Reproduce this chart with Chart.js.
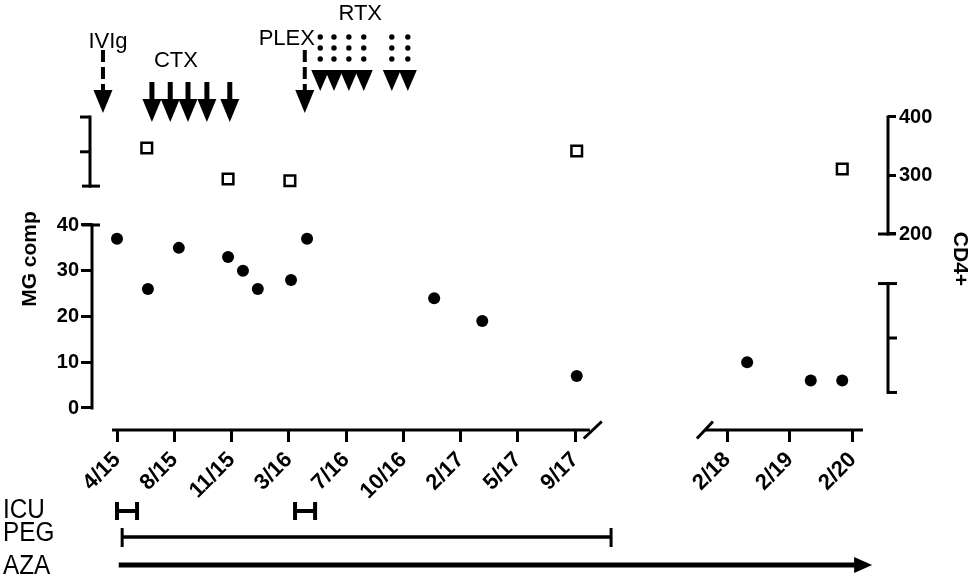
<!DOCTYPE html>
<html>
<head>
<meta charset="utf-8">
<title>MG comp and CD4+ over time</title>
<script src="https://cdn.jsdelivr.net/npm/chart.js@4.4.1/dist/chart.umd.min.js"></script>
<style>
  html, body { margin: 0; padding: 0; background: #fff; }
  #wrap { width: 976px; height: 577px; }
</style>
</head>
<body>
<div id="wrap"><canvas id="mgChart" width="976" height="577"></canvas></div>
<script>
// x axis is broken: early part uses one slot per tick label (0..8),
// late part starts at LATE_START and moves LATE_STEP per year
var earlyLabels = ['4/15', '8/15', '11/15', '3/16', '7/16', '10/16', '2/17', '5/17', '9/17'];
var lateLabels = ['2/18', '2/19', '2/20'];
var LATE_START = 10.655;
var LATE_STEP = 1.1;

// MG composite score
var mgEarlyX = [0, 0.54, 1.08, 1.94, 2.2, 2.46, 3.04, 3.32, 5.54, 6.38, 8.03];
var mgEarlyY = [37, 26, 35, 33, 30, 26, 28, 37, 24, 19, 7];
var mgLateX = [0.32, 1.33, 1.83];   // years after 2/18
var mgLateY = [10, 6, 6];

// CD4+ counts
var cd4EarlyX = [0.52, 1.94, 3.02, 8.03];
var cd4EarlyY = [347, 294, 291, 342];
var cd4LateX = [1.83];
var cd4LateY = [311];

// treatments, in early slots
var ivigDoses = [-0.245];
var ctxDoses = [0.61, 0.93, 1.24, 1.57, 1.97];
var plexDoses = [3.28];
var rtxDoses = [3.55, 3.79, 4.05, 4.31, 4.8, 5.08];

// timeline rows [start, end] on the axis
var icuStays = [[0, 0.35], [3.11, 3.46]];
var pegPeriod = [0.09, 8.63];
var azaPeriod = [0.03, 13.19];

var mgTicks = [0, 10, 20, 30, 40];
var cd4Ticks = [200, 300, 400];

function late(v) { return LATE_START + v * LATE_STEP; }

var xTicks = earlyLabels.map(function (l, i) { return i; })
    .concat(lateLabels.map(function (l, i) { return late(i); }));
var xTickLabels = earlyLabels.concat(lateLabels);

function points(xs, ys, isLate) {
    return xs.map(function (v, i) {
        return { x: isLate ? late(v) : v, y: ys[i] };
    });
}

Chart.defaults.font.family = "'Liberation Sans', Arial, sans-serif";
Chart.defaults.color = '#000';

var decor = {
    id: 'decor',
    afterDraw: function (chart) {
        var c = chart.ctx;
        var a = chart.chartArea;
        var xs = chart.scales.x, ys = chart.scales.y, y2s = chart.scales.y2;
        var X = function (v) { return xs.getPixelForValue(v); };
        var Y = function (v) { return ys.getPixelForValue(v); };
        var Y2 = function (v) { return y2s.getPixelForValue(v); };

        function line(x1, y1, x2, y2, w) {
            c.lineWidth = w || 3;
            c.beginPath(); c.moveTo(x1, y1); c.lineTo(x2, y2); c.stroke();
        }
        function tri(px, base, tip, half) {
            c.beginPath();
            c.moveTo(px - half, base); c.lineTo(px + half, base); c.lineTo(px, tip);
            c.closePath(); c.fill();
        }

        c.save();
        c.strokeStyle = '#000';
        c.fillStyle = '#000';

        // left axis 0..40
        var L = a.left, R = a.right, B = a.bottom;
        line(L, Y(0) + 1.5, L, Y(40) - 1.5);
        line(L - 10, Y(40), L + 8, Y(40));
        // small unlabeled bracket above it
        var bTop = Y(63.6), bMid = Y(56), bBot = Y(48.5);
        line(L - 2, bTop - 1.5, L - 2, bBot + 1.5);
        line(L - 12, bTop, L - 2, bTop);
        line(L - 12, bMid, L - 2, bMid);
        line(L - 10, bBot, L + 8, bBot);

        // right CD4+ axis 200..400
        line(R, Y2(400) - 1.5, R, Y2(200) + 1.5);
        line(R - 10, Y2(200), R + 8, Y2(200));
        // lower bracket on the right
        var rTop = Y(27.2), rMid = Y(15.3), rBot = Y(3.4);
        line(R, rTop - 1.5, R, rBot + 1.5);
        line(R - 10, rTop, R + 9, rTop);
        line(R, rMid, R + 9, rMid);
        line(R, rBot, R + 9, rBot);

        // broken x axis
        line(X(-0.087), B, X(8.26), B);
        line(X(10.27), B, X(13.03), B);
        var s1 = X(8.31), s2 = X(10.27);
        line(s1 - 9, B + 8.5, s1 + 9, B - 8.5);
        line(s2 - 8, B + 8.5, s2 + 8, B - 8.5);

        // treatment arrows
        c.setLineDash([12, 5]);
        ivigDoses.concat(plexDoses).forEach(function (v) {
            line(X(v), 50, X(v), 92, 4);
        });
        c.setLineDash([]);
        ivigDoses.concat(plexDoses).forEach(function (v) {
            tri(X(v), 90, 113, 9.5);
        });
        ctxDoses.forEach(function (v) {
            line(X(v), 82, X(v), 102, 5);
            tri(X(v), 99, 122, 9.5);
        });
        rtxDoses.forEach(function (v) {
            [37, 48, 59].forEach(function (dy) {
                c.beginPath(); c.arc(X(v), dy, 2.7, 0, Math.PI * 2); c.fill();
            });
            tri(X(v), 70, 91, 9);
        });

        c.font = "22px 'Liberation Sans', Arial, sans-serif";
        c.textAlign = 'center';
        c.textBaseline = 'alphabetic';
        c.fillText('IVIg', X(ivigDoses[0]) + 5, 48);
        c.fillText('CTX', X(ctxDoses[0]) + 24, 67);
        c.fillText('PLEX', X(plexDoses[0]) - 18, 45);
        c.fillText('RTX', X(rtxDoses[0]) + 40, 20);

        // timeline rows
        icuStays.forEach(function (s) {
            var x1 = X(s[0]), x2 = X(s[1]);
            line(x1, 511, x2, 511, 4);
            line(x1, 502, x1, 520, 4);
            line(x2, 502, x2, 520, 4);
        });
        var p1 = X(pegPeriod[0]), p2 = X(pegPeriod[1]);
        line(p1, 537, p2, 537, 3.5);
        line(p1, 528, p1, 547, 3);
        line(p2, 528, p2, 547, 3);
        var z1 = X(azaPeriod[0]), z2 = X(azaPeriod[1]);
        line(z1, 565, z2 - 14, 565, 5);
        c.beginPath();
        c.moveTo(z2 - 18, 565 - 8); c.lineTo(z2, 565); c.lineTo(z2 - 18, 565 + 8);
        c.closePath(); c.fill();

        // row names are tall and narrow in the original
        c.font = "27px 'Liberation Sans', Arial, sans-serif";
        c.textAlign = 'left';
        c.save();
        c.scale(0.9, 1);
        c.fillText('ICU', 3 / 0.9, 518);
        c.fillText('PEG', 3 / 0.9, 541);
        c.fillText('AZA', 3 / 0.9, 574);
        c.restore();
        c.restore();
    }
};

var tickGrid = { drawOnChartArea: false, drawTicks: true, lineWidth: 3, color: '#000' };

new Chart(document.getElementById('mgChart'), {
    type: 'scatter',
    data: {
        datasets: [{
            label: 'MG comp',
            data: points(mgEarlyX, mgEarlyY, false).concat(points(mgLateX, mgLateY, true)),
            yAxisID: 'y',
            pointStyle: 'circle',
            pointRadius: 6,
            backgroundColor: '#000',
            borderWidth: 0
        }, {
            label: 'CD4+',
            data: points(cd4EarlyX, cd4EarlyY, false).concat(points(cd4LateX, cd4LateY, true)),
            yAxisID: 'y2',
            pointStyle: 'rect',
            pointRadius: 7.5,
            backgroundColor: '#fff',
            borderColor: '#000',
            borderWidth: 2.5
        }]
    },
    options: {
        responsive: false,
        animation: false,
        layout: { padding: { top: 88, left: 0, right: 0, bottom: 0 } },
        plugins: {
            legend: { display: false },
            tooltip: { enabled: false }
        },
        scales: {
            x: {
                type: 'linear',
                min: -0.43668,
                max: 13.4672,
                afterBuildTicks: function (scale) {
                    scale.ticks = xTicks.map(function (v) { return { value: v }; });
                },
                afterFit: function (scale) { scale.height = 147; },
                grid: Object.assign({ tickLength: 12 }, tickGrid),
                border: { display: false },
                ticks: {
                    autoSkip: false,
                    minRotation: 45,
                    maxRotation: 45,
                    padding: 5,
                    font: { size: 22, weight: 'bold' },
                    callback: function (v, i) { return xTickLabels[i]; }
                }
            },
            y: {
                position: 'left',
                min: -4.809,
                max: 69.945,
                afterBuildTicks: function (scale) {
                    scale.ticks = mgTicks.map(function (v) { return { value: v }; });
                },
                afterFit: function (scale) { scale.width = 92; },
                grid: Object.assign({ tickLength: 11 }, tickGrid),
                border: { display: false },
                ticks: { padding: 2, font: { size: 20, weight: 'bold' } },
                title: {
                    display: true,
                    text: 'MG comp',
                    font: { size: 21, weight: 'bold' },
                    padding: { top: 18, bottom: 0 }
                }
            },
            y2: {
                position: 'right',
                min: -135.04,
                max: 449.57,
                afterBuildTicks: function (scale) {
                    scale.ticks = cd4Ticks.map(function (v) { return { value: v }; });
                },
                afterFit: function (scale) { scale.width = 88; },
                grid: Object.assign({ tickLength: 8 }, tickGrid),
                border: { display: false },
                ticks: { padding: 3, font: { size: 20, weight: 'bold' } },
                title: {
                    display: true,
                    text: 'CD4+',
                    font: { size: 21, weight: 'bold' },
                    padding: { top: 4, bottom: 0 }
                }
            }
        }
    },
    plugins: [decor]
});
</script>
</body>
</html>
